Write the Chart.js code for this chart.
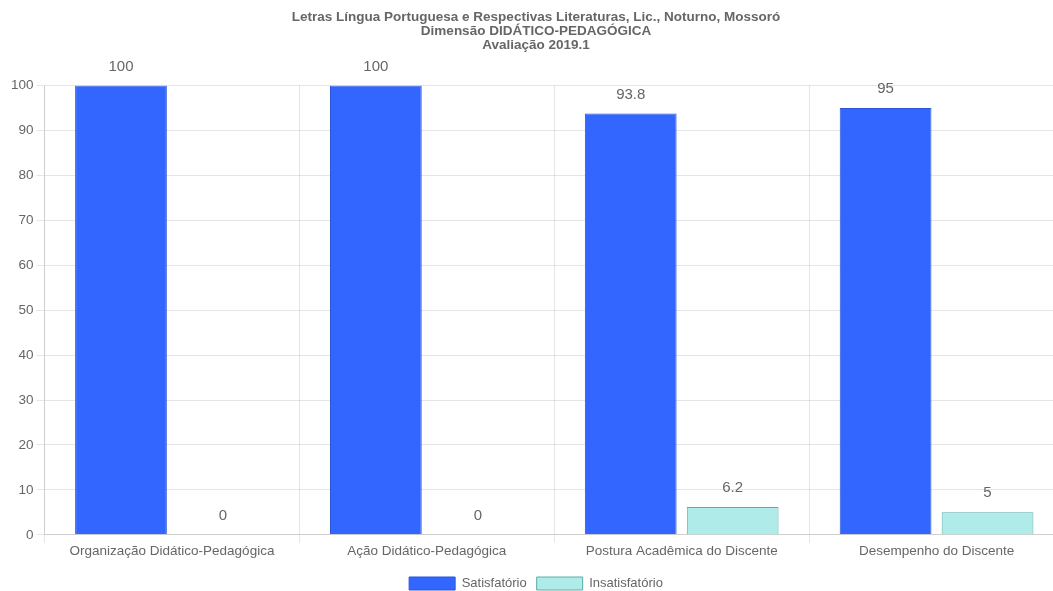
<!DOCTYPE html>
<html>
<head>
<meta charset="utf-8">
<script src="https://cdn.jsdelivr.net/npm/chart.js@4"></script>
<style>
  html, body { margin: 0; padding: 0; background: #fff; overflow: hidden; }
  #wrap { width: 1066px; height: 591px; position: relative; }
</style>
</head>
<body>
<div id="wrap"><canvas id="chart"></canvas></div>
<script>
const categories = [
  'Organização Didático-Pedagógica',
  'Ação Didático-Pedagógica',
  'Postura Acadêmica do Discente',
  'Desempenho do Discente'
];
const satisfatorio = [100, 100, 93.8, 95];
const insatisfatorio = [0, 0, 6.2, 5];
const seriesNames = ['Satisfatório', 'Insatisfatório'];
const titleLines = [
  'Letras Língua Portuguesa e Respectivas Literaturas, Lic., Noturno, Mossoró',
  'Dimensão DIDÁTICO-PEDAGÓGICA',
  'Avaliação 2019.1'
];

// Writes each bar's value above it
const valueLabels = {
  id: 'valueLabels',
  afterDatasetsDraw(chart) {
    const ctx = chart.ctx;
    ctx.save();
    ctx.font = '15px Arial, "Liberation Sans", sans-serif';
    ctx.fillStyle = '#666';
    ctx.textAlign = 'center';
    ctx.textBaseline = 'middle';
    chart.data.datasets.forEach((ds, i) => {
      const meta = chart.getDatasetMeta(i);
      meta.data.forEach((bar, j) => {
        ctx.fillText(String(ds.data[j]), bar.x, bar.y - 19);
      });
    });
    ctx.restore();
  }
};

Chart.defaults.font.family = 'Arial, "Liberation Sans", sans-serif';
Chart.defaults.color = '#666';

new Chart(document.getElementById('chart'), {
  type: 'bar',
  data: {
    labels: categories,
    datasets: [
      {
        label: seriesNames[0],
        data: satisfatorio,
        backgroundColor: '#3366ff',
        borderColor: '#2a55d8',
        borderWidth: 1
      },
      {
        label: seriesNames[1],
        data: insatisfatorio,
        backgroundColor: '#afebe8',
        borderColor: '#5aaea9',
        borderWidth: 1
      }
    ]
  },
  options: {
    responsive: true,
    maintainAspectRatio: false,
    animation: false,
    layout: { padding: { left: 8, right: 2, top: 0, bottom: -9 } },
    plugins: {
      title: {
        display: true,
        text: titleLines,
        font: { size: 13.5, weight: 'bold', lineHeight: 1.05 },
        color: '#666',
        padding: { top: 10, bottom: 33 }
      },
      legend: {
        position: 'bottom',
        labels: { boxWidth: 46, boxHeight: 13, font: { size: 13 }, padding: 10 }
      },
      tooltip: { enabled: false }
    },
    scales: {
      x: {
        grid: { color: 'rgba(0,0,0,0.1)' },
        ticks: { font: { size: 13.5 }, color: '#666', padding: 0 },
        afterFit(scale) { scale.height += 8; }
      },
      y: {
        min: 0,
        max: 100,
        ticks: { stepSize: 10, font: { size: 13.5 }, color: '#666' },
        grid: { color: 'rgba(0,0,0,0.1)' }
      }
    }
  },
  plugins: [valueLabels]
});
</script>
</body>
</html>
